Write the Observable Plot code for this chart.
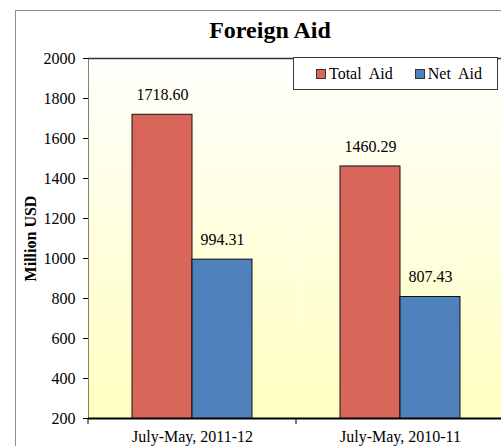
<!DOCTYPE html>
<html><head><meta charset="utf-8">
<script src="https://cdn.jsdelivr.net/npm/d3@7"></script>
<script src="https://cdn.jsdelivr.net/npm/@observablehq/plot@0.6"></script>
<style>
html,body{margin:0;padding:0;background:#fff;}
#wrap{position:relative;width:501px;height:446px;overflow:hidden;font-family:"Liberation Serif",serif;color:#000;}
#frame{position:absolute;left:15px;top:10px;width:600px;height:600px;border:1px solid #8c8c8c;box-sizing:border-box;}
#chart{position:absolute;left:0;top:0;}
#title{position:absolute;left:15px;width:510px;top:16px;text-align:center;font-family:"Liberation Serif",serif;font-weight:bold;font-size:24px;line-height:28px;}
#legend{position:absolute;left:293px;top:57px;width:205px;height:33px;box-sizing:border-box;border:1px solid #3a3a3a;background:#fff;display:flex;align-items:center;padding-left:22px;font-size:16px;font-family:"Liberation Serif",serif;white-space:nowrap;}
#legend .item{display:flex;align-items:center;margin-right:22px;flex-shrink:0;}
#legend .sw{width:10px;height:10px;box-sizing:border-box;border:1px solid #333;margin-right:3px;flex-shrink:0;}
</style>
</head><body>
<div id="wrap">
  <div id="frame"></div>
  <div id="chart"></div>
  <div id="title">Foreign Aid</div>
  <div id="legend"></div>
</div>
<script>
const categories = ["July-May, 2011-12", "July-May, 2010-11"];
const series = ["Total Aid", "Net Aid"];
const totalAid = [1718.60, 1460.29];
const netAid = [994.31, 807.43];
const yTicks = [200, 400, 600, 800, 1000, 1200, 1400, 1600, 1800, 2000];
const seriesColors = ["#D9665A", "#4F81BD"];

const serif = "'Liberation Serif', serif";

const rows = [];
categories.forEach((c, i) => {
  rows.push({category: c, series: series[0], value: totalAid[i]});
  rows.push({category: c, series: series[1], value: netAid[i]});
});

const plot = Plot.plot({
  width: 504,
  height: 446,
  marginLeft: 88,
  marginRight: 0,
  marginTop: 58,
  marginBottom: 28,
  style: {background: "transparent", fontFamily: serif, fontSize: "16px", color: "#000", maxWidth: "none", overflow: "visible"},
  fx: {domain: categories, padding: 0, tickSize: 0, tickPadding: 12, label: null, axis: "bottom"},
  x: {domain: series, axis: null, paddingInner: 0, paddingOuter: 0.7333},
  y: {domain: [yTicks[0], yTicks[yTicks.length - 1]], ticks: yTicks, tickFormat: d => String(d), tickSize: 5, tickPadding: 8, line: true, label: "Million USD", labelAnchor: "center", labelOffset: 64, labelArrow: "none"},
  color: {domain: series, range: seriesColors},
  marks: [
    Plot.frame({fill: "url(#bgGrad)"}),
    Plot.ruleY([yTicks[yTicks.length - 1]], {stroke: "#333", strokeWidth: 1.5}),
    Plot.barY(rows, {fx: "category", x: "series", y: "value", fill: "series", stroke: "#111", strokeWidth: 1, clip: true}),
    Plot.text(rows, {fx: "category", x: "series", y: "value", text: d => d.value.toFixed(2), dy: -20, fontSize: 16, fontFamily: serif, fill: "#000"}),
    Plot.ruleY([yTicks[0]], {stroke: "#000", strokeWidth: 2})
  ]
});

document.getElementById("chart").appendChild(plot);
const svg = d3.select(plot);
svg.selectAll("g, text").attr("font-family", serif).style("font-family", serif);
const defs = svg.insert("defs", ":first-child");
const g = defs.append("linearGradient").attr("id", "bgGrad").attr("x1", 0).attr("y1", 0).attr("x2", 0).attr("y2", 1);
g.append("stop").attr("offset", "0%").attr("stop-color", "#FFFFFC");
g.append("stop").attr("offset", "100%").attr("stop-color", "#FFFFC0");

svg.selectAll('[aria-label="y-axis label"]').attr("font-weight", "bold");
svg.selectAll('[aria-label="y-axis label"] text').attr("font-weight", "bold");

// category boundary ticks below the x axis
const fxs = plot.scale("fx");
const ys = plot.scale("y");
const y0 = ys.apply(yTicks[0]);
const bounds = [fxs.apply(categories[0])].concat(categories.map(c => fxs.apply(c) + fxs.bandwidth));
svg.append("g").selectAll("line").data(bounds).join("line")
  .attr("x1", d => d).attr("x2", d => d).attr("y1", y0).attr("y2", y0 + 6)
  .attr("stroke", "#000").attr("stroke-width", 1);

// legend
const lg = d3.select("#legend");
series.forEach((s, i) => {
  const it = lg.append("div").attr("class", "item");
  it.append("div").attr("class", "sw").style("background", seriesColors[i]);
  it.append("span").text(s.replace(" ", "\u00a0 "));
});
</script>
</body></html>
